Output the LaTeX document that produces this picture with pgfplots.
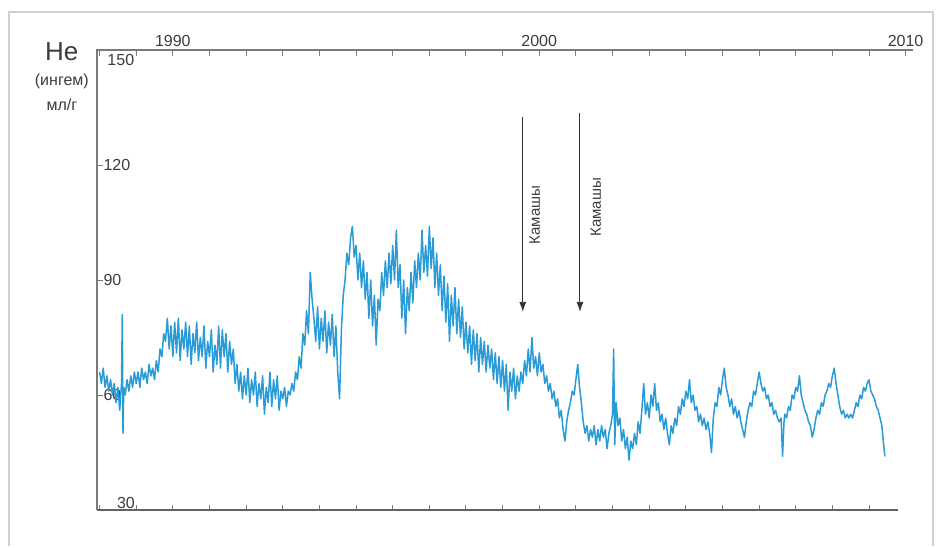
\documentclass[border=0pt]{standalone}
\usepackage{fontspec}
\setmainfont{Liberation Sans}
\usepackage{pgfplots}
\pgfplotsset{compat=1.18}
\usetikzlibrary{arrows.meta}
\definecolor{HeBlue}{HTML}{2A9BD6}
\definecolor{AxGray}{HTML}{7A7A7A}
\definecolor{TxGray}{HTML}{3C3C3C}
\definecolor{FrGray}{HTML}{D0D0D0}

\begin{document}
\begin{tikzpicture}
% fixed page size, 1pt per pixel of the reference
\path (-97pt,-34pt) rectangle (841pt,510pt);
\draw[FrGray, line width=2pt] (-88pt,-36pt) -- (-88pt,498pt) -- (836pt,498pt) -- (836pt,-36pt);

% bottom ticks only
\begin{axis}[
  scale only axis, width=816pt, height=460pt,
  xmin=1987.93, xmax=2010.2, ymin=30, ymax=150,
  axis line style={draw=none},
  tick align=inside, major tick length=5pt,
  tick style={AxGray, line width=0.9pt},
  xtick={1988,...,2009}, xtick pos=left, xticklabels={},
  ytick=\empty,
]
\end{axis}

\begin{axis}[
  scale only axis, width=816pt, height=460pt,
  xmin=1987.93, xmax=2010.2, ymin=30, ymax=150,
  axis line style={draw=none},
  clip=false,
  tick align=inside, major tick length=6pt,
  tick style={AxGray, line width=0.9pt},
  xtick={1988,...,2010}, xtick pos=right, xticklabel pos=right,
  xticklabels={,,1990,,,,,,,,,,2000,,,,,,,,,,2010},
  ytick={60,90,120}, ytick pos=left,
  yticklabel style={anchor=west, xshift=3pt},
  ticklabel style={font=\fontsize{16}{18}\selectfont, text=TxGray},
  /pgf/number format/assume math mode=true,
]
\draw[AxGray, line width=1.2pt] (axis cs:1987.93,30) -- (axis cs:1987.93,150) -- (axis cs:2010.2,150);
\draw[AxGray!80!black, line width=1.2pt] (axis cs:1987.93,30) -- (axis cs:2009.78,30);

\addplot[HeBlue, line width=1.5pt, line join=round] coordinates {
(1988.00,66)(1988.05,63)(1988.10,67)(1988.15,62)(1988.20,65)(1988.25,61)(1988.30,64)(1988.35,60)
(1988.40,63)(1988.45,58)(1988.50,62)(1988.55,56)(1988.60,63)(1988.62,81)(1988.64,50)(1988.66,62)
(1988.70,60)(1988.75,64)(1988.80,61)(1988.85,65)(1988.90,62)(1988.95,66)(1989.00,63)(1989.05,66)
(1989.10,62)(1989.15,67)(1989.20,64)(1989.25,66)(1989.30,63)(1989.35,68)(1989.40,65)(1989.45,67)
(1989.50,64)(1989.55,69)(1989.60,66)(1989.65,72)(1989.70,70)(1989.75,76)(1989.80,74)(1989.85,80)
(1989.90,72)(1989.95,78)(1990.00,70)(1990.05,79)(1990.10,71)(1990.15,80)(1990.20,69)(1990.25,77)
(1990.30,72)(1990.35,79)(1990.40,70)(1990.45,78)(1990.50,68)(1990.55,76)(1990.60,71)(1990.65,79)
(1990.70,69)(1990.75,75)(1990.80,70)(1990.85,78)(1990.90,67)(1990.95,74)(1991.00,70)(1991.05,77)
(1991.10,66)(1991.15,73)(1991.20,68)(1991.25,78)(1991.30,67)(1991.35,77)(1991.40,70)(1991.45,76)
(1991.50,66)(1991.55,74)(1991.60,68)(1991.65,72)(1991.70,63)(1991.75,68)(1991.80,61)(1991.85,66)
(1991.90,59)(1991.95,65)(1992.00,60)(1992.05,67)(1992.10,58)(1992.15,64)(1992.20,60)(1992.25,66)
(1992.30,57)(1992.35,63)(1992.40,59)(1992.45,65)(1992.50,55)(1992.55,62)(1992.60,58)(1992.65,66)
(1992.70,57)(1992.75,64)(1992.80,59)(1992.85,65)(1992.90,56)(1992.95,61)(1993.00,59)(1993.05,62)
(1993.10,57)(1993.15,61)(1993.20,60)(1993.25,63)(1993.30,61)(1993.35,66)(1993.40,64)(1993.45,70)
(1993.50,67)(1993.55,76)(1993.60,73)(1993.65,82)(1993.70,76)(1993.75,92)(1993.80,85)(1993.85,80)
(1993.90,74)(1993.95,83)(1994.00,72)(1994.05,80)(1994.10,74)(1994.15,82)(1994.20,71)(1994.25,79)
(1994.30,73)(1994.35,81)(1994.40,70)(1994.45,78)(1994.50,66)(1994.55,59)(1994.60,77)(1994.65,86)
(1994.70,90)(1994.75,97)(1994.80,94)(1994.85,101)(1994.90,104)(1994.95,96)(1995.00,99)(1995.05,90)
(1995.10,97)(1995.15,88)(1995.20,95)(1995.25,85)(1995.30,92)(1995.35,80)(1995.40,90)(1995.45,78)
(1995.50,86)(1995.55,73)(1995.60,85)(1995.65,82)(1995.70,92)(1995.75,86)(1995.80,95)(1995.85,88)
(1995.90,97)(1995.95,89)(1996.00,99)(1996.05,90)(1996.10,103)(1996.15,88)(1996.20,94)(1996.25,80)
(1996.30,90)(1996.35,76)(1996.40,88)(1996.45,82)(1996.50,92)(1996.55,84)(1996.60,95)(1996.65,88)
(1996.70,97)(1996.75,90)(1996.80,103)(1996.85,92)(1996.90,99)(1996.95,91)(1997.00,104)(1997.05,93)
(1997.10,101)(1997.15,88)(1997.20,97)(1997.25,86)(1997.30,94)(1997.35,82)(1997.40,91)(1997.45,79)
(1997.50,89)(1997.55,74)(1997.60,86)(1997.65,78)(1997.70,88)(1997.75,76)(1997.80,85)(1997.85,75)
(1997.90,83)(1997.95,72)(1998.00,79)(1998.05,71)(1998.10,78)(1998.15,68)(1998.20,77)(1998.25,69)
(1998.30,76)(1998.35,66)(1998.40,75)(1998.45,68)(1998.50,74)(1998.55,66)(1998.60,73)(1998.65,67)
(1998.70,72)(1998.75,64)(1998.80,71)(1998.85,63)(1998.90,70)(1998.95,62)(1999.00,69)(1999.05,61)
(1999.10,68)(1999.15,56)(1999.20,66)(1999.25,61)(1999.30,67)(1999.35,59)(1999.40,65)(1999.45,61)
(1999.50,66)(1999.55,63)(1999.60,69)(1999.65,65)(1999.70,72)(1999.75,66)(1999.80,75)(1999.85,67)
(1999.90,70)(1999.95,65)(2000.00,71)(2000.05,66)(2000.10,68)(2000.15,63)(2000.20,65)(2000.25,61)
(2000.30,63)(2000.35,59)(2000.40,61)(2000.45,57)(2000.50,59)(2000.55,54)(2000.60,56)(2000.65,51)
(2000.70,48)(2000.75,53)(2000.80,56)(2000.85,58)(2000.90,61)(2000.95,60)(2001.00,64)(2001.05,68)
(2001.10,62)(2001.15,58)(2001.20,53)(2001.25,50)(2001.30,52)(2001.35,48)(2001.40,51)(2001.45,49)
(2001.50,52)(2001.55,47)(2001.60,51)(2001.65,48)(2001.70,52)(2001.75,49)(2001.80,51)(2001.85,46)
(2001.90,50)(2001.95,52)(2002.00,55)(2002.03,72)(2002.06,47)(2002.10,58)(2002.15,52)(2002.20,54)
(2002.25,48)(2002.30,51)(2002.35,46)(2002.40,49)(2002.45,43)(2002.50,48)(2002.55,46)(2002.60,50)
(2002.65,47)(2002.70,53)(2002.75,50)(2002.80,56)(2002.85,63)(2002.90,55)(2002.95,58)(2003.00,54)
(2003.05,60)(2003.10,57)(2003.15,63)(2003.20,56)(2003.25,58)(2003.30,53)(2003.35,55)(2003.40,51)
(2003.45,54)(2003.50,50)(2003.55,47)(2003.60,52)(2003.65,50)(2003.70,54)(2003.75,52)(2003.80,57)
(2003.85,55)(2003.90,59)(2003.95,57)(2004.00,61)(2004.05,59)(2004.10,64)(2004.15,58)(2004.20,60)
(2004.25,56)(2004.30,57)(2004.35,53)(2004.40,55)(2004.45,52)(2004.50,54)(2004.55,51)(2004.60,53)
(2004.65,50)(2004.70,45)(2004.75,54)(2004.80,58)(2004.85,57)(2004.90,62)(2004.95,60)(2005.00,64)
(2005.05,67)(2005.10,62)(2005.15,60)(2005.20,57)(2005.25,59)(2005.30,55)(2005.35,57)(2005.40,54)
(2005.45,56)(2005.50,53)(2005.55,51)(2005.60,49)(2005.65,53)(2005.70,56)(2005.75,58)(2005.80,57)
(2005.85,61)(2005.90,60)(2005.95,63)(2006.00,66)(2006.05,63)(2006.10,61)(2006.15,62)(2006.20,59)
(2006.25,60)(2006.30,57)(2006.35,58)(2006.40,55)(2006.45,56)(2006.50,54)(2006.55,53)(2006.60,54)
(2006.64,44)(2006.68,53)(2006.70,55)(2006.75,54)(2006.80,57)(2006.85,56)(2006.90,60)(2006.95,59)
(2007.00,62)(2007.05,61)(2007.10,65)(2007.15,60)(2007.20,58)(2007.25,56)(2007.30,55)(2007.35,53)
(2007.40,52)(2007.45,49)(2007.50,51)(2007.55,54)(2007.60,56)(2007.65,55)(2007.70,58)(2007.75,57)
(2007.80,60)(2007.85,61)(2007.90,63)(2007.95,62)(2008.00,65)(2008.05,67)(2008.10,63)(2008.15,60)
(2008.20,57)(2008.25,55)(2008.30,56)(2008.35,54)(2008.40,55)(2008.45,54)(2008.50,55)(2008.55,54)
(2008.60,56)(2008.65,58)(2008.70,57)(2008.75,60)(2008.80,59)(2008.85,62)(2008.90,61)(2008.95,63)
(2009.00,64)(2009.05,61)(2009.10,60)(2009.15,59)(2009.20,57)(2009.25,56)(2009.30,54)(2009.35,52)
(2009.40,47)(2009.43,44)
};

% y tick labels at the ends sit inside the frame
\node[font=\fontsize{16}{18}\selectfont, text=TxGray] at (axis cs:1988.58,147.3) {150};
\node[font=\fontsize{16}{18}\selectfont, text=TxGray] at (axis cs:1988.72,31.8) {30};

% unit label
\node[font=\fontsize{26}{28}\selectfont, text=TxGray] at (axis cs:1986.97,149.5) {He};
\node[font=\fontsize{16}{18}\selectfont, text=TxGray] at (axis cs:1986.97,141.7) {(ингем)};
\node[font=\fontsize{16}{18}\selectfont, text=TxGray] at (axis cs:1986.97,135.7) {мл/г};

% events
\draw[black!80, line width=0.9pt, -{Latex[length=10pt,width=7pt]}] (axis cs:1999.55,132.5) -- (axis cs:1999.55,81.7);
\draw[black!80, line width=0.9pt, -{Latex[length=10pt,width=7pt]}] (axis cs:2001.11,133.6) -- (axis cs:2001.11,81.7);
\node[rotate=90, font=\fontsize{15}{17}\selectfont, text=TxGray] at (axis cs:1999.88,107) {Камашы};
\node[rotate=90, font=\fontsize{15}{17}\selectfont, text=TxGray] at (axis cs:2001.54,109) {Камашы};
\end{axis}
\end{tikzpicture}
\end{document}
